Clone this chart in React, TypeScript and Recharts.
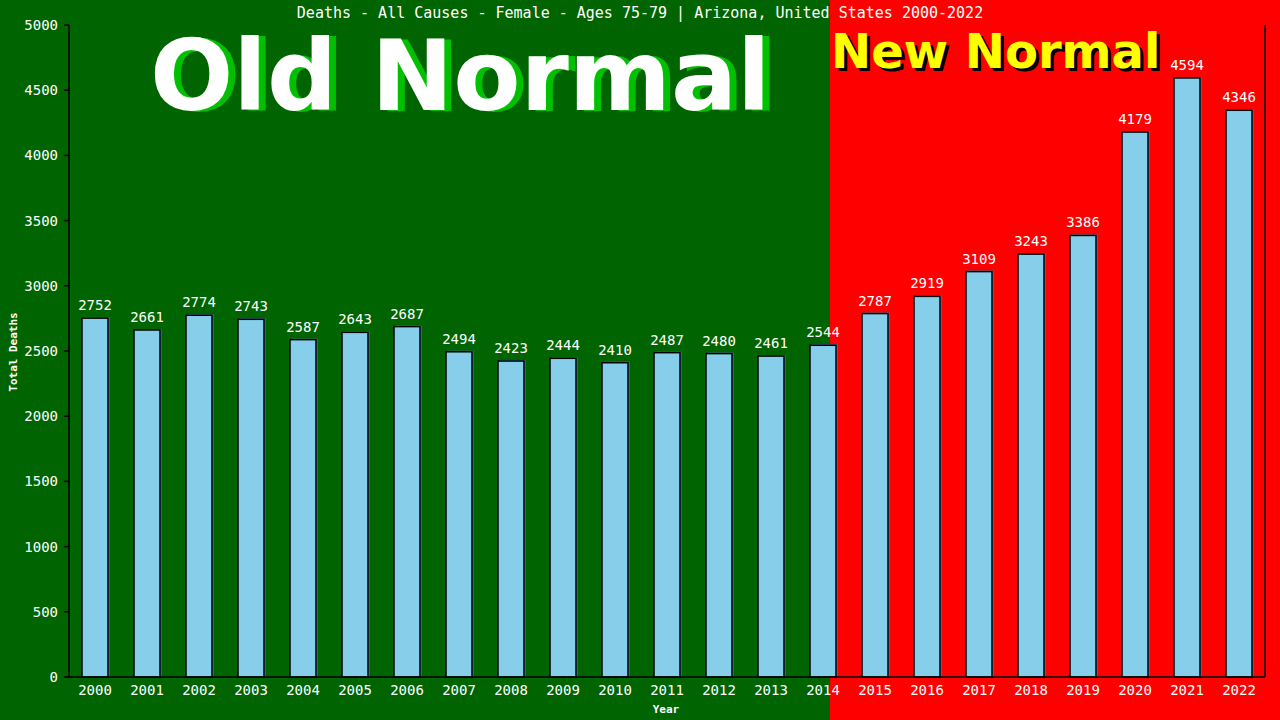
import { BarChart, Bar, XAxis, YAxis, LabelList } from "recharts";

const years = ["2000", "2001", "2002", "2003", "2004", "2005", "2006", "2007", "2008", "2009", "2010", "2011", "2012", "2013", "2014", "2015", "2016", "2017", "2018", "2019", "2020", "2021", "2022"];
const deaths = [2752, 2661, 2774, 2743, 2587, 2643, 2687, 2494, 2423, 2444, 2410, 2487, 2480, 2461, 2544, 2787, 2919, 3109, 3243, 3386, 4179, 4594, 4346];
const yTicks = [0, 500, 1000, 1500, 2000, 2500, 3000, 3500, 4000, 4500, 5000];

const data = years.map((year, i) => ({ year, deaths: deaths[i] }));

const MONO = "'DejaVu Sans Mono', monospace";
const SANS_BOLD = "'DejaVu Sans', sans-serif";

// light blue bar with a steel-blue offset edge behind it
const ShadowBar = (props: any) => {
	const { x, y, width, height } = props;
	return (
		<g>
			<rect x={x + 1.5} y={y - 1} width={width} height={height + 1} fill="#4682b4" />
			<rect x={x} y={y} width={width} height={height} fill="#87ceeb" stroke="#000" strokeWidth={1.5} />
		</g>
	);
};

export default function App() {
	return (
		<div
			style={{
				position: "absolute", left: 0, top: 0, width: 1280, height: 720,
				background: "linear-gradient(to right, #006400 0px, #006400 830px, #ff0000 830px, #ff0000 1280px)",
				overflow: "hidden",
			}}
		>
			{/* overlay texts */}
			<svg width={1280} height={720} style={{ position: "absolute", left: 0, top: 0 }}>
				<text x={640} y={18} textAnchor="middle" fill="#fff" fontFamily={MONO} fontSize={15}>
					Deaths - All Causes - Female - Ages 75-79 | Arizona, United States 2000-2022
				</text>
				<text x={157} y={111} fill="#00c000" fontFamily={SANS_BOLD} fontWeight="bold" fontSize={98}>Old Normal</text>
				<text x={150} y={110} fill="#fff" fontFamily={SANS_BOLD} fontWeight="bold" fontSize={98}>Old Normal</text>
				<text x={834} y={71} fill="#000" fontFamily={SANS_BOLD} fontWeight="bold" fontSize={48}>New Normal</text>
				<text x={831} y={68} fill="#ffff00" fontFamily={SANS_BOLD} fontWeight="bold" fontSize={48}>New Normal</text>
				<text x={17} y={352} textAnchor="middle" transform="rotate(-90 17 352)" fill="#fff" fontFamily={MONO} fontWeight="bold" fontSize={11}>
					Total Deaths
				</text>
				<text x={666} y={713} textAnchor="middle" fill="#fff" fontFamily={MONO} fontWeight="bold" fontSize={11}>Year</text>
			</svg>
			<div style={{ position: "absolute", left: 0, top: 0 }}>
				<BarChart width={1280} height={720} data={data} margin={{ top: 25, right: 0, bottom: 0, left: 0 }} barCategoryGap="25%">
					<XAxis
						dataKey="year"
						height={43}
						tickLine={false}
						axisLine={{ stroke: "#000", strokeWidth: 1.5 }}
						tick={{ fill: "#fff", fontFamily: MONO, fontSize: 14 }}
						tickMargin={2}
						interval={0}
					/>
					<YAxis
						yAxisId="l"
						width={69}
						domain={[0, 5000]}
						ticks={yTicks}
						interval={0}
						axisLine={{ stroke: "#000", strokeWidth: 1.5 }}
						tickLine={{ stroke: "#000", strokeWidth: 1.5 }}
						tickSize={5}
						tickMargin={6}
						tick={{ fill: "#fff", fontFamily: MONO, fontSize: 14 }}
					/>
					<YAxis
						yAxisId="r"
						orientation="right"
						width={15}
						domain={[0, 5000]}
						tick={false}
						tickLine={false}
						axisLine={{ stroke: "#000", strokeWidth: 1.5 }}
					/>
					<Bar yAxisId="l" dataKey="deaths" shape={ShadowBar} isAnimationActive={false}>
						<LabelList dataKey="deaths" position="top" offset={8} fill="#fff" fontFamily={MONO} fontSize={14} />
					</Bar>
				</BarChart>
			</div>
		</div>
	);
}
